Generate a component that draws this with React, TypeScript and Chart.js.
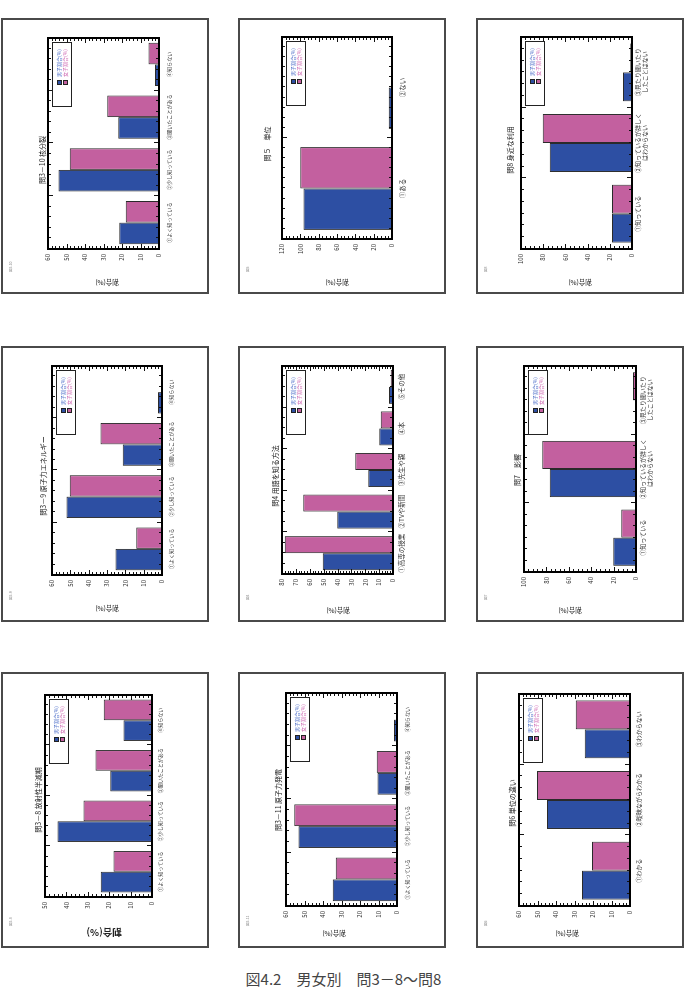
import React, { useEffect, useRef } from "react";
import { Chart, registerables } from "chart.js";

Chart.register(...registerables);

const FONT = "'Noto Sans CJK JP', 'Noto Sans', sans-serif";
const BLUE = "#2d4fa3";
const PINK = "#c3609f";
const EDGE = "#2a2a2a";
const TEXT = "#333333";

const MALE_LABEL = "男子割合(%)";
const FEMALE_LABEL = "女子割合(%)";
const AXIS_TITLE = "割合(%)";

// Category labels
const knowCats = ["①よく知っている", "②少し知っている", "③聞いたことがある", "④知らない"];
const unitCats = ["①ある", "②ない"];
const awareCats = [["①知っている"], ["②知っているが詳しく", "はわからない"], ["③見たり聞いたり", "したことはない"]];
const sourceCats = ["①高専の授業", "②TVや新聞", "③先生や親", "④本", "⑤その他"];
const diffCats = ["①わかる", "②曖昧ながらわかる", "③わからない"];

// Percentages by question (male / female)
const q3_10Male = [21.5, 54.3, 22.0, 2.2];
const q3_10Female = [18.0, 48.3, 28.0, 5.7];
const q5Male = [96.5, 3.5];
const q5Female = [100, 0];
const q8Male = [18.0, 74.0, 8.0];
const q8Female = [18.0, 80.5, 1.5];
const q3_9Male = [25.4, 52.1, 21.4, 2.2];
const q3_9Female = [14.1, 50.3, 33.5, 0];
const q4Male = [50.7, 40.1, 17.8, 9.9, 2.9];
const q4Female = [78.1, 64.7, 27.2, 8.9, 1.7];
const q7Male = [20.3, 77.0, 0];
const q7Female = [13.1, 83.6, 2.7];
const q3_8Male = [23.9, 44.2, 19.5, 13.3];
const q3_8Female = [18.0, 32.0, 26.4, 22.5];
const q3_11Male = [34.7, 53.3, 10.5, 1.6];
const q3_11Female = [33.1, 55.5, 11.0, 0];
const q6Male = [26.0, 44.8, 24.4];
const q6Female = [20.6, 50.3, 29.3];

// Value axis ranges [max, step]
const range60: [number, number] = [60, 10];
const range120: [number, number] = [120, 20];
const range100: [number, number] = [100, 20];
const range80: [number, number] = [80, 10];
const range50: [number, number] = [50, 10];

// Each panel is drawn landscape and turned a quarter turn on the page.
const W = 276; // panel height on the page
const H = 208; // panel width on the page

type Panel = {
  title: string;
  tag: string;
  cats: (string | string[])[];
  male: number[];
  female: number[];
  range: [number, number];
  left: number;
  top: number;
  area: [number, number, number, number];
  titleAt: [number, number];
  axisTitleAt: [number, number];
  boldAxisTitle?: boolean;
  labelOffset: number;
  catFont: number;
};

const panels: Panel[] = [
  { title: "問3－10 核分裂", tag: "図3-10", cats: knowCats, male: q3_10Male, female: q3_10Female, range: range60,
    left: 1, top: 18, area: [45, 256, 47, 158], titleAt: [134, 41], axisTitleAt: [12, 106], labelOffset: 10, catFont: 5 },
  { title: "問５　単位", tag: "図5", cats: unitCats, male: q5Male, female: q5Female, range: range120,
    left: 238, top: 18, area: [55, 257, 44, 154], titleAt: [150, 29], axisTitleAt: [12, 99], labelOffset: 11, catFont: 6.5 },
  { title: "問8 身近な利用", tag: "図8", cats: awareCats, male: q8Male, female: q8Female, range: range100,
    left: 476, top: 18, area: [45, 257, 45, 156], titleAt: [144, 34], axisTitleAt: [12, 104], labelOffset: 5.5, catFont: 6 },
  { title: "問3－9 原子力エネルギー", tag: "図3-9", cats: knowCats, male: q3_9Male, female: q3_9Female, range: range60,
    left: 1, top: 346, area: [47, 256, 51, 161], titleAt: [146, 42], axisTitleAt: [14, 106], labelOffset: 9, catFont: 5 },
  { title: "問4 用語を知る方法", tag: "図4", cats: sourceCats, male: q4Male, female: q4Female, range: range80,
    left: 238, top: 346, area: [48, 256, 44, 155], titleAt: [146, 37], axisTitleAt: [12, 100], labelOffset: 8.3, catFont: 6.5 },
  { title: "問7　影響", tag: "図7", cats: awareCats, male: q7Male, female: q7Female, range: range100,
    left: 476, top: 346, area: [50, 256, 48, 160], titleAt: [152, 41], axisTitleAt: [12, 94], labelOffset: 6.7, catFont: 6 },
  { title: "問3－8 放射性半減期", tag: "図3-8", cats: knowCats, male: q3_8Male, female: q3_8Female, range: range50,
    left: 1, top: 672, area: [51, 253, 44, 151], titleAt: [148, 37], axisTitleAt: [15, 103], boldAxisTitle: true, labelOffset: 7.6, catFont: 5 },
  { title: "問3－11 原子力発電", tag: "図3-11", cats: knowCats, male: q3_11Male, female: q3_11Female, range: range60,
    left: 238, top: 672, area: [42, 255, 48, 159], titleAt: [148, 40], axisTitleAt: [15, 96], labelOffset: 10, catFont: 5 },
  { title: "問6 単位の違い", tag: "図6", cats: diffCats, male: q6Male, female: q6Female, range: range60,
    left: 476, top: 672, area: [42, 254, 43, 154], titleAt: [145, 36], axisTitleAt: [15, 91], labelOffset: 8.3, catFont: 6 },
];

// Panel frame, plot box, inward ticks, titles and the boxed legend
const decorate = (p: Panel) => ({
  id: "decorate",
  afterDraw(chart: any) {
    const { ctx, chartArea: a } = chart;
    const ys = chart.scales.y;
    const [max, step] = p.range;
    const L = Math.round(a.left);
    const R = Math.round(a.right);
    const T = Math.round(a.top);
    const B = Math.round(a.bottom);
    ctx.save();

    // outer panel frame
    ctx.fillStyle = "#4a4a4a";
    ctx.fillRect(0, 0, W, 2);
    ctx.fillRect(0, H - 2, W, 2);
    ctx.fillRect(0, 0, 2, H);
    ctx.fillRect(W - 2, 0, 2, H);

    ctx.fillStyle = "#111";
    // value ticks on both long edges
    const minor = step / 5;
    const count = Math.round(max / minor);
    for (let k = 0; k <= count; k++) {
      const py = Math.round(ys.getPixelForValue(k * minor));
      const len = k % 5 === 0 ? 5 : 3;
      ctx.fillRect(L, py, len, 1);
      ctx.fillRect(R - len, py, len, 1);
    }
    // category ticks on both short edges
    const n = p.cats.length;
    const per = n === 2 ? 10 : n === 3 ? 6 : n === 4 ? 5 : 4;
    const span = (R - L) / (n * per);
    for (let k = 0; k <= n * per; k++) {
      const px = Math.round(L + k * span);
      const len = k % per === 0 ? 5 : 3;
      ctx.fillRect(px, T, 1, len);
      ctx.fillRect(px, B - len, 1, len);
    }

    // plot box
    ctx.fillStyle = "#000";
    ctx.fillRect(L - 1, T - 1, R - L + 2, 2);
    ctx.fillRect(L - 1, B - 1, R - L + 2, 2);
    ctx.fillRect(L - 1, T - 1, 2, B - T + 2);
    ctx.fillRect(R - 1, T - 1, 2, B - T + 2);

    // chart title
    ctx.fillStyle = "#222";
    ctx.textAlign = "center";
    ctx.textBaseline = "middle";
    ctx.font = `7px ${FONT}`;
    ctx.fillText(p.title, p.titleAt[0], p.titleAt[1]);

    // value axis title
    ctx.save();
    ctx.translate(p.axisTitleAt[0], p.axisTitleAt[1]);
    ctx.rotate(-Math.PI / 2);
    ctx.font = p.boldAxisTitle ? `bold 9.5px ${FONT}` : `6.5px ${FONT}`;
    ctx.fillStyle = "#222";
    ctx.fillText(AXIS_TITLE, 0, 0);
    ctx.restore();

    // small figure tag
    ctx.textAlign = "left";
    ctx.font = `3.5px ${FONT}`;
    ctx.fillStyle = "#888";
    ctx.fillText(p.tag, 22, 10);

    // legend
    const bw = 64;
    const bh = 19;
    const bx = Math.round(R - 5 - bw);
    const by = Math.round(T + 4);
    ctx.fillStyle = "#222";
    ctx.fillRect(bx, by, bw + 1, bh + 1);
    ctx.fillStyle = "#fff";
    ctx.fillRect(bx + 1, by + 1, bw - 1, bh - 1);
    const rows: [string, string, string][] = [
      [BLUE, "#4a6cc8", MALE_LABEL],
      [PINK, "#cf68b2", FEMALE_LABEL],
    ];
    ctx.font = `5px ${FONT}`;
    ctx.textBaseline = "middle";
    rows.forEach(([fill, txt, label], i) => {
      const cy = by + 7 + i * 6;
      ctx.fillStyle = "#222";
      ctx.fillRect(bx + 22, cy - 2, 5, 5);
      ctx.fillStyle = fill;
      ctx.fillRect(bx + 23, cy - 1, 3, 3);
      ctx.fillStyle = txt;
      ctx.fillText(label, bx + 30, cy);
    });

    ctx.restore();
  },
});

function ChartPanel({ p }: { p: Panel }) {
  const ref = useRef<HTMLCanvasElement>(null);

  useEffect(() => {
    const [u0, u1, v0, v1] = p.area;
    const yW = 20;
    const xH = 30;
    const chart = new Chart(ref.current as HTMLCanvasElement, {
      type: "bar",
      data: {
        labels: p.cats as any,
        datasets: [
          { label: MALE_LABEL, data: p.male, backgroundColor: BLUE, borderColor: EDGE, borderWidth: 1,
            categoryPercentage: 0.82, barPercentage: 1 },
          { label: FEMALE_LABEL, data: p.female, backgroundColor: PINK, borderColor: EDGE, borderWidth: 1,
            categoryPercentage: 0.82, barPercentage: 1 },
        ],
      },
      options: {
        animation: false,
        responsive: false,
        devicePixelRatio: 1,
        layout: { padding: { left: u0 - yW, right: W - u1, top: v0, bottom: H - v1 - xH } },
        plugins: { legend: { display: false }, title: { display: false }, tooltip: { enabled: false } },
        scales: {
          x: {
            grid: { display: false, drawTicks: false },
            border: { display: false },
            ticks: {
              autoSkip: false,
              maxRotation: 0,
              minRotation: 0,
              padding: p.labelOffset - 0.6 * p.catFont,
              color: TEXT,
              font: { family: FONT, size: p.catFont },
            },
            afterFit: (s: any) => { s.height = xH; },
          },
          y: {
            min: 0,
            max: p.range[0],
            grid: { display: false, drawTicks: false },
            border: { display: false },
            ticks: { stepSize: p.range[1], padding: 5, color: TEXT, font: { family: FONT, size: 6 } },
            afterFit: (s: any) => { s.width = yW; },
          },
        },
      },
      plugins: [decorate(p)],
    });
    return () => chart.destroy();
  }, [p]);

  const cx = p.left + H / 2;
  const cy = p.top + W / 2;
  return (
    <div
      style={{
        position: "absolute",
        left: cx - W / 2,
        top: cy - H / 2,
        width: W,
        height: H,
        transform: "rotate(-90deg)",
      }}
    >
      <canvas ref={ref} width={W} height={H} style={{ width: W, height: H, display: "block" }} />
    </div>
  );
}

export default function App() {
  return (
    <div
      style={{
        position: "absolute",
        left: 0,
        top: 0,
        width: 687,
        height: 988,
        background: "#fff",
        overflow: "hidden",
      }}
    >
      {panels.map((p, i) => (
        <ChartPanel key={i} p={p} />
      ))}
      <div
        style={{
          position: "absolute",
          left: 0,
          top: 971,
          width: 687,
          textAlign: "center",
          fontFamily: FONT,
          fontSize: 15,
          lineHeight: "16px",
          color: "#444",
          whiteSpace: "pre",
        }}
      >
        {"図4.2　男女別　問3－8～問8"}
      </div>
    </div>
  );
}
